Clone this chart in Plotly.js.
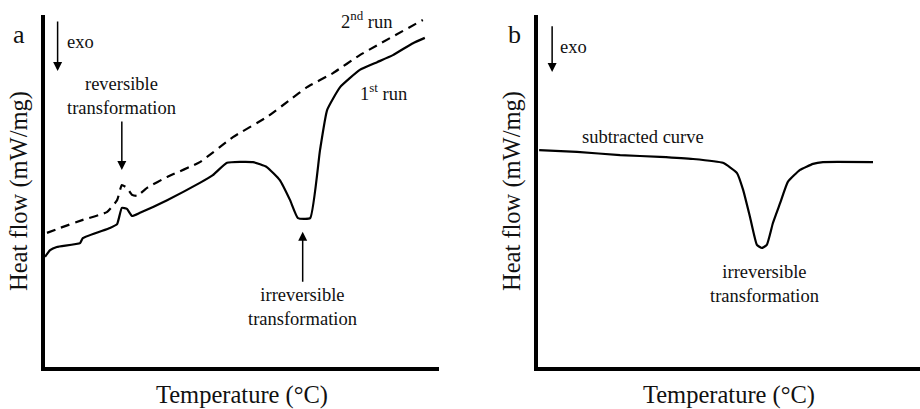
<!DOCTYPE html>
<html>
<head>
<meta charset="utf-8">
<script src="https://cdn.plot.ly/plotly-3.0.1.min.js"></script>
<style>html,body{margin:0;padding:0;background:#fff;}#chart{width:920px;height:409px;}</style>
</head>
<body>
<div id="chart"></div>
<script>
// Panel a: 1st run (solid)
const run1T = [0, 1.3, 3.0, 8.9, 9.6, 16.5, 18.3, 19.5, 20.8, 22.1, 24.1, 31.0, 39.3, 42.6, 46.2, 52.8, 56.3, 59.6, 62.2, 64.2, 67.3, 69.8, 71.6, 74.9, 79.9, 84.3, 88.3, 93.4, 96.4];
const run1H = [31.3, 33.2, 34.1, 35.2, 36.6, 39.5, 40.6, 45.2, 44.9, 42.9, 43.8, 47.4, 52.3, 54.5, 58.0, 58.2, 56.8, 53.1, 47.4, 42.3, 42.3, 61.6, 73.0, 79.5, 84.4, 86.6, 88.6, 92.0, 93.5];
// Panel a: 2nd run (dashed)
const run2T = [0.5, 3.8, 9.6, 15.7, 18.3, 19.5, 20.8, 22.1, 23.4, 25.9, 31.0, 39.3, 47.7, 56.3, 62.2, 66.5, 73.1, 79.9, 95.9];
const run2H = [38.1, 39.5, 41.8, 44.0, 47.4, 51.7, 50.9, 48.9, 48.6, 50.9, 54.0, 58.2, 65.3, 71.0, 75.9, 79.5, 83.5, 88.6, 98.6];
// Panel b: subtracted curve
const subT = [0.3, 10.2, 21.5, 31.9, 40.6, 48.4, 52.1, 53.7, 55.5, 57.3, 58.6, 59.9, 61.5, 63.4, 65.4, 68.6, 72.0, 74.6, 87.7];
const subH = [61.6, 61.1, 60.2, 59.7, 59.1, 58.0, 55.1, 50.3, 42.6, 34.7, 33.8, 34.7, 40.9, 46.6, 52.6, 56.0, 57.7, 58.2, 58.2];

const FONT = "'Liberation Serif', 'Times New Roman', serif";
const lineStyle = {color: '#000', width: 2.2, shape: 'spline', smoothing: 0.4};

const traces = [
  {x: run1T, y: run1H, type: 'scatter', mode: 'lines', line: lineStyle, xaxis: 'x', yaxis: 'y', name: '1st run'},
  {x: run2T, y: run2H, type: 'scatter', mode: 'lines', line: Object.assign({}, lineStyle, {dash: '9px,6px'}), xaxis: 'x', yaxis: 'y', name: '2nd run'},
  {x: subT, y: subH, type: 'scatter', mode: 'lines', line: lineStyle, xaxis: 'x2', yaxis: 'y2', name: 'subtracted curve'}
];

const axBase = {
  showline: true, linewidth: 4, linecolor: '#000', mirror: false,
  showgrid: false, zeroline: false, ticks: '', showticklabels: false,
  fixedrange: true
};
const titleFont = {family: FONT, size: 24.5, color: '#111'};
const annFont = {family: FONT, size: 18.5, color: '#111'};

function arrow(xr, yr, x, y, ax, ay) {
  return {xref: xr, yref: yr, axref: xr, ayref: yr, x: x, y: y, ax: ax, ay: ay,
    text: '', showarrow: true, arrowhead: 2, arrowsize: 1.2, arrowwidth: 1.5, arrowcolor: '#000'};
}
function label(xr, yr, x, y, text, xanchor) {
  return {xref: xr, yref: yr, x: x, y: y, text: text, showarrow: false,
    xanchor: xanchor || 'center', yanchor: 'middle', font: annFont};
}
// text centred at (tx, ty) with an arrow pointing to (x, y)
function pointer(xr, yr, x, y, tx, ty, text) {
  return {xref: xr, yref: yr, axref: xr, ayref: yr, x: x, y: y, ax: tx, ay: ty,
    text: text, font: annFont, showarrow: true, arrowhead: 2, arrowsize: 1.2,
    arrowwidth: 1.5, arrowcolor: '#000', startstandoff: 2};
}

const layout = {
  width: 920, height: 409,
  margin: {l: 0, r: 0, t: 0, b: 0},
  paper_bgcolor: '#fff', plot_bgcolor: '#fff',
  font: {family: FONT, color: '#111'},
  showlegend: false,
  xaxis: Object.assign({}, axBase, {domain: [45/920, 439/920], range: [0, 100], anchor: 'y',
    title: {text: 'Temperature (°C)', font: titleFont, standoff: 18}}),
  yaxis: Object.assign({}, axBase, {domain: [1 - 367/409, 1 - 15/409], range: [0, 100], anchor: 'x',
    title: {text: 'Heat flow (mW/mg)', font: titleFont, standoff: 7}}),
  xaxis2: Object.assign({}, axBase, {domain: [538/920, 1], range: [0, 100], anchor: 'y2',
    title: {text: 'Temperature (°C)', font: titleFont, standoff: 18}}),
  yaxis2: Object.assign({}, axBase, {domain: [1 - 367/409, 1 - 15/409], range: [0, 100], anchor: 'x2',
    title: {text: 'Heat flow (mW/mg)', font: titleFont, standoff: 7}}),
  annotations: [
    // panel letters
    {xref: 'paper', yref: 'paper', x: 19/920, y: 1 - 34/409, xanchor: 'center', yanchor: 'middle', text: 'a', showarrow: false, font: {family: FONT, size: 26, color: '#111'}},
    {xref: 'paper', yref: 'paper', x: 514/920, y: 1 - 34/409, xanchor: 'center', yanchor: 'middle', text: 'b', showarrow: false, font: {family: FONT, size: 26, color: '#111'}},
    // panel a
    arrow('x', 'y', 3.2, 84.1, 3.2, 98.6),
    label('x', 'y', 5.1, 92.3, 'exo', 'left'),
    pointer('x', 'y', 19.5, 56.0, 19.5, 77.0, 'reversible<br>transformation'),
    label('x', 'y', 81.7, 98.6, '2<sup>nd</sup> run'),
    label('x', 'y', 85.8, 78.1, '1<sup>st</sup> run'),
    pointer('x', 'y', 65.4, 38.4, 65.4, 17.0, 'irreversible<br>transformation'),
    // panel b
    arrow('x2', 'y2', 3.7, 83.8, 3.7, 97.2),
    label('x2', 'y2', 5.2, 90.9, 'exo', 'left'),
    label('x2', 'y2', 27.5, 65.3, 'subtracted curve'),
    label('x2', 'y2', 59.4, 23.6, 'irreversible<br>transformation')
  ]
};

Plotly.newPlot('chart', traces, layout, {staticPlot: true, displayModeBar: false});
</script>
</body>
</html>
